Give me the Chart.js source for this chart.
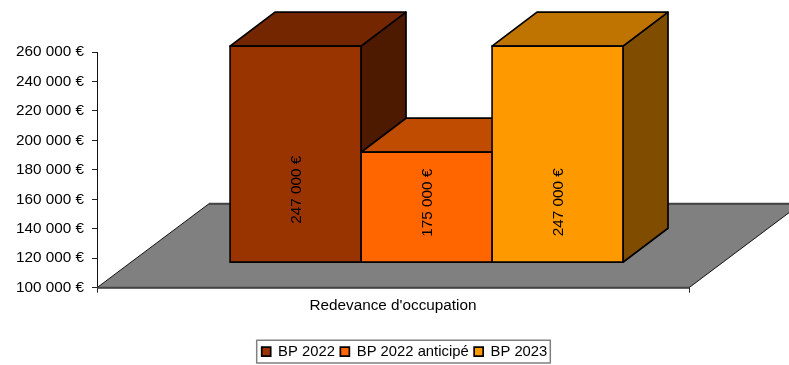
<!DOCTYPE html>
<html>
<head>
<meta charset="utf-8">
<style>html,body{margin:0;padding:0;background:#fff}canvas{display:block}</style>
<script src="https://cdn.jsdelivr.net/npm/chart.js@4"></script>
</head>
<body>
<canvas id="c" width="789" height="365"></canvas>
<script>
const categories = ["Redevance d'occupation"];
const seriesNames = ['BP 2022', 'BP 2022 anticipé', 'BP 2023'];
const seriesValues = [[247000], [175000], [247000]];
const frontColors = ['#993300', '#FF6600', '#FF9900'];
const topColors = ['#732600', '#BF4C00', '#BF7300'];
const sideColors = ['#4D1A00', '#802F00', '#804D00'];
const labelNudges = [35.5, -4.5, 48];
const axisMin = 100000;
const axisMax = 260000;
const axisStep = 20000;

const FONT = '"Liberation Sans", Arial, sans-serif';
const FONT_SIZE = 15.3;
const LEGEND_FONT_SIZE = 14.8;
const EDGE = 1.7;
// Perspective offsets: the floor's depth, where the bars stand on it, and the bars' own depth.
const FLOOR = {dx: 112, dy: -84};
const STAND = {dx: 33.5, dy: -25};
const DEPTH = {dx: 45, dy: -34};

const euro = v => String(v).replace(/\B(?=(\d{3})+$)/g, '\u00a0') + '\u00a0€';

function poly(ctx, pts, fill, stroke, width) {
  ctx.beginPath();
  pts.forEach((p, i) => i ? ctx.lineTo(p[0], p[1]) : ctx.moveTo(p[0], p[1]));
  ctx.closePath();
  ctx.fillStyle = fill;
  ctx.fill();
  ctx.strokeStyle = stroke;
  ctx.lineWidth = width;
  ctx.lineJoin = 'round';
  ctx.stroke();
}

const perspective = {
  id: 'perspective',
  afterLayout(chart) {
    // Place the framed legend right of centre, just above the bottom edge.
    chart.legend.left += 120;
    chart.legend.top += 4;
    chart.legend.bottom += 4;
  },
  beforeDatasetsDraw(chart) {
    const {ctx, chartArea: a} = chart;
    // Floor plane
    poly(ctx, [[a.left, a.bottom], [a.right, a.bottom],
               [a.right + FLOOR.dx, a.bottom + FLOOR.dy], [a.left + FLOOR.dx, a.bottom + FLOOR.dy]],
         '#808080', '#111', 1);
    ctx.strokeStyle = '#444';
    ctx.lineWidth = 2;
    ctx.beginPath();
    ctx.moveTo(a.left + FLOOR.dx, a.bottom + FLOOR.dy);
    ctx.lineTo(a.right + FLOOR.dx, a.bottom + FLOOR.dy);
    ctx.moveTo(a.left, a.bottom);
    ctx.lineTo(a.right, a.bottom);
    ctx.stroke();
    // Top and side faces, nearest series last so it overlaps the previous one
    chart.getSortedVisibleDatasetMetas().forEach(meta => {
      const i = meta.index;
      const b = meta.data[0];
      const l = b.x - b.width / 2 + STAND.dx, r = b.x + b.width / 2 + STAND.dx;
      const t = b.y + STAND.dy, base = b.base + STAND.dy;
      poly(ctx, [[r, t], [r + DEPTH.dx, t + DEPTH.dy], [r + DEPTH.dx, base + DEPTH.dy], [r, base]],
           sideColors[i], '#000', EDGE);
      poly(ctx, [[l, t], [r, t], [r + DEPTH.dx, t + DEPTH.dy], [l + DEPTH.dx, t + DEPTH.dy]],
           topColors[i], '#000', EDGE);
    });
  },
  beforeDatasetDraw(chart) {
    chart.ctx.save();
    chart.ctx.translate(STAND.dx, STAND.dy);
  },
  afterDatasetDraw(chart) {
    chart.ctx.restore();
  },
  afterDatasetsDraw(chart) {
    const {ctx} = chart;
    chart.getSortedVisibleDatasetMetas().forEach(meta => {
      const i = meta.index;
      const b = meta.data[0];
      ctx.save();
      ctx.translate(b.x + STAND.dx + 1, (b.y + b.base) / 2 + STAND.dy + labelNudges[i]);
      ctx.rotate(-Math.PI / 2);
      ctx.font = FONT_SIZE + 'px ' + FONT;
      ctx.fillStyle = '#000';
      ctx.textAlign = 'center';
      ctx.textBaseline = 'middle';
      ctx.fillText(euro(seriesValues[i][0]), 0, 0);
      ctx.restore();
    });
  },
  afterDraw(chart) {
    // Frame round the legend
    const {ctx, legend} = chart;
    const boxes = legend.legendHitBoxes;
    const first = boxes[0], last = boxes[boxes.length - 1];
    ctx.strokeStyle = '#808080';
    ctx.lineWidth = 1.5;
    ctx.strokeRect(first.left - 5, first.top - 4, last.left + last.width - first.left + 8, first.height + 8);
  }
};

new Chart(document.getElementById('c'), {
  type: 'bar',
  data: {
    labels: categories,
    datasets: seriesNames.map((name, i) => ({
      label: name,
      data: seriesValues[i],
      base: axisMin,
      backgroundColor: frontColors[i],
      borderColor: '#000',
      borderWidth: EDGE,
      inflateAmount: EDGE / 2,
      borderSkipped: false,
      clip: false,
      categoryPercentage: 393 / 592,
      barPercentage: 1
    }))
  },
  options: {
    responsive: false,
    animation: false,
    layout: {padding: {top: 52, right: 100, left: 0, bottom: 0}},
    scales: {
      x: {
        grid: {offset: true, drawOnChartArea: false, tickLength: 5, color: '#222'},
        border: {display: false},
        ticks: {color: '#000', font: {family: FONT, size: FONT_SIZE}, padding: 4},
        afterFit(scale) { scale.height = 47; }
      },
      y: {
        min: axisMin,
        max: axisMax,
        grid: {drawOnChartArea: false, tickLength: 5, color: '#222'},
        border: {color: '#111', width: 1},
        ticks: {stepSize: axisStep, color: '#000', font: {family: FONT, size: FONT_SIZE}, padding: 8, callback: v => euro(v)},
        afterFit(scale) { scale.width = 97; }
      }
    },
    plugins: {
      tooltip: {enabled: false},
      title: {display: false},
      legend: {
        position: 'bottom',
        labels: {
          color: '#000',
          boxWidth: 9,
          boxHeight: 9,
          padding: 5.5,
          font: {family: FONT, size: LEGEND_FONT_SIZE}
        }
      }
    }
  },
  plugins: [perspective]
});
</script>
</body>
</html>
